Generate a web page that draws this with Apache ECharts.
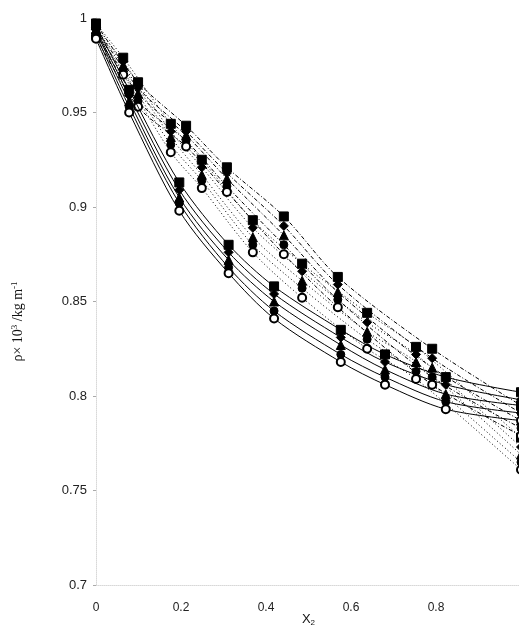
<!DOCTYPE html>
<html>
<head>
<meta charset="utf-8">
<script src="https://cdn.jsdelivr.net/npm/echarts@6/dist/echarts.min.js"></script>
<style>
html,body{margin:0;padding:0;background:#fff;}
#chart{width:519px;height:628px;}
</style>
</head>
<body>
<div id="chart"></div>
<script>
// Family A (solid lines)
var xA = [0, 0.078, 0.196, 0.312, 0.419, 0.576, 0.68, 0.823, 1.0];
var A_square   = [0.996, 0.962, 0.913, 0.880, 0.858, 0.835, 0.822, 0.810, 0.802];
var A_diamond  = [0.994, 0.959, 0.909, 0.876, 0.854, 0.831, 0.818, 0.806, 0.798];
var A_triangle = [0.993, 0.956, 0.905, 0.872, 0.850, 0.827, 0.814, 0.801, 0.795];
var A_circle   = [0.991, 0.953, 0.902, 0.868, 0.845, 0.822, 0.810, 0.797, 0.791];
var A_open     = [0.989, 0.950, 0.898, 0.865, 0.841, 0.818, 0.806, 0.793, 0.787];

// Family B1 (dotted lines)
var xB1 = [0, 0.064, 0.176, 0.249, 0.369, 0.485, 0.638, 0.753, 1.0];
var B1_square   = [0.997, 0.979, 0.944, 0.925, 0.893, 0.870, 0.844, 0.826, 0.778];
var B1_diamond  = [0.995, 0.977, 0.940, 0.921, 0.889, 0.866, 0.839, 0.822, 0.773];
var B1_triangle = [0.994, 0.975, 0.937, 0.917, 0.884, 0.861, 0.834, 0.818, 0.769];
var B1_circle   = [0.992, 0.972, 0.933, 0.914, 0.880, 0.857, 0.830, 0.813, 0.765];
var B1_open     = [0.990, 0.970, 0.929, 0.910, 0.876, 0.852, 0.825, 0.809, 0.761];

// Family B2 (dash-dot lines)
var xB2 = [0, 0.099, 0.212, 0.308, 0.442, 0.569, 0.791, 1.0];
var B2_square   = [0.997, 0.966, 0.943, 0.921, 0.895, 0.863, 0.825, 0.795];
var B2_diamond  = [0.995, 0.963, 0.940, 0.918, 0.890, 0.859, 0.820, 0.791];
var B2_triangle = [0.994, 0.960, 0.938, 0.915, 0.885, 0.855, 0.815, 0.787];
var B2_circle   = [0.992, 0.956, 0.935, 0.911, 0.880, 0.851, 0.810, 0.783];
var B2_open     = [0.990, 0.953, 0.932, 0.908, 0.875, 0.847, 0.806, 0.779];

var xTicks = [0, 0.2, 0.4, 0.6, 0.8];
var yTicks = [0.7, 0.75, 0.8, 0.85, 0.9, 0.95, 1];

var symbols = ['rect', 'diamond', 'triangle', 'circle', 'emptyCircle'];
var symSizes = [9, 9, 9, 8, 8];

var families = [
  {x: xA, ys: [A_square, A_diamond, A_triangle, A_circle, A_open], line: 'solid', z: 3},
  {x: xB1, ys: [B1_square, B1_diamond, B1_triangle, B1_circle, B1_open], line: [1, 2.5], z: 2},
  {x: xB2, ys: [B2_square, B2_diamond, B2_triangle, B2_circle, B2_open], line: [4, 2, 1, 2], z: 2}
];

var series = [];
families.forEach(function (f) {
  f.ys.forEach(function (ys, i) {
    series.push({
      type: 'line',
      data: f.x.map(function (xv, k) { return [xv, ys[k]]; }),
      smooth: 0.3,
      symbol: symbols[i],
      symbolSize: symSizes[i],
      showAllSymbol: true,
      clip: false,
      z: f.z,
      itemStyle: {color: '#000', borderColor: '#000', borderWidth: 1},
      lineStyle: {color: '#000', width: 1, type: f.line},
      emphasis: {disabled: true}
    });
  });
});

var chart = echarts.init(document.getElementById('chart'), null, {renderer: 'canvas'});
chart.setOption({
  animation: false,
  backgroundColor: '#fff',
  grid: {left: 96, width: 425, top: 18, height: 567, containLabel: false, outerBoundsMode: 'none'},
  xAxis: {
    type: 'value', min: 0, max: 1, interval: 0.2,
    name: '{x|X}{s|2}', nameLocation: 'middle', nameGap: 28, nameMoveOverlap: false,
    nameTextStyle: {verticalAlign: 'top', rich: {
      x: {fontFamily: 'Liberation Sans', fontSize: 13, color: '#111', verticalAlign: 'top', lineHeight: 14},
      s: {fontFamily: 'Liberation Sans', fontSize: 8, color: '#111', verticalAlign: 'bottom', lineHeight: 8, padding: [7, 0, 0, 0]}
    }},
    axisLine: {show: true, lineStyle: {color: '#d8d8d8', type: 'dotted', width: 1}},
    axisTick: {show: false},
    splitLine: {show: false},
    axisLabel: {
      margin: 17, fontFamily: 'Liberation Sans', fontSize: 12, color: '#222',
      formatter: function (v) { return xTicks.indexOf(Math.round(v * 10) / 10) >= 0 ? String(Math.round(v * 10) / 10) : ''; }
    }
  },
  yAxis: {
    type: 'value', min: 0.7, max: 1, interval: 0.05,
    name: '{a|ρ× 10}{sup|3}{a| /kg m}{sup|-1}', nameLocation: 'middle', nameGap: 69, nameRotate: 90, nameMoveOverlap: false,
    nameTextStyle: {padding: [0, 40, 0, 0], rich: {
      a: {fontFamily: 'Liberation Serif', fontSize: 14, color: '#111'},
      sup: {fontFamily: 'Liberation Serif', fontSize: 9, color: '#111', verticalAlign: 'top', padding: [0, 0, 8, 0]}
    }},
    axisLine: {show: true, lineStyle: {color: '#d8d8d8', type: 'dotted', width: 1}},
    axisTick: {show: true, length: 3, lineStyle: {color: '#aaa'}},
    splitLine: {show: false},
    axisLabel: {
      margin: 9, fontFamily: 'Liberation Sans', fontSize: 13, color: '#222',
      formatter: function (v) {
        var r = Math.round(v * 100) / 100;
        return yTicks.indexOf(r) >= 0 ? String(r) : '';
      }
    }
  },
  series: series
});
</script>
</body>
</html>
